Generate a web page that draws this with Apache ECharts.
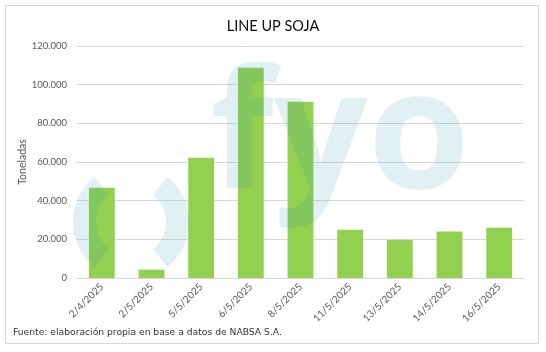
<!DOCTYPE html>
<html>
<head>
<meta charset="utf-8">
<script src="https://cdn.jsdelivr.net/npm/echarts@6/dist/echarts.min.js"></script>
<style>
  html, body { margin: 0; padding: 0; background: #fff; }
  #chart { width: 546px; height: 352px; }
</style>
</head>
<body>
<div id="chart"></div>
<script>
const chart = echarts.init(document.getElementById('chart'));

// fechas de arribo y toneladas
const categories = ['2/4/2025', '2/5/2025', '5/5/2025', '6/5/2025', '8/5/2025', '11/5/2025', '13/5/2025', '14/5/2025', '16/5/2025'];
const toneladas = [46700, 4300, 62200, 108800, 91200, 25000, 19800, 24000, 26000];
const yTicks = { min: 0, max: 120000, interval: 20000 };

const fmt = v => String(v).replace(/\B(?=(\d{3})+(?!\d))/g, '.');
const wm = 'rgba(45,146,183,0.14)';
const deg = d => d * Math.PI / 180;

const option = {
  backgroundColor: '#fff',
  animation: false,
  title: {
    text: 'LINE UP SOJA',
    left: 'center',
    top: 14,
    textStyle: { color: '#0d0d0d', fontSize: 14.5, fontWeight: 'normal', fontFamily: 'Lato' }
  },
  grid: { left: 77, right: 22, top: 46, bottom: 74 },
  xAxis: {
    type: 'category',
    data: categories,
    axisLine: { lineStyle: { color: '#d9d9d9' } },
    axisTick: { show: false },
    axisLabel: { color: '#595959', fontSize: 10, fontFamily: 'Lato', rotate: 45, margin: 7, interval: 0 }
  },
  yAxis: {
    type: 'value',
    min: yTicks.min,
    max: yTicks.max,
    interval: yTicks.interval,
    name: 'Toneladas',
    nameLocation: 'middle',
    nameGap: 49,
    nameMoveOverlap: false,
    nameTextStyle: { color: '#595959', fontSize: 10.5, fontFamily: 'Lato' },
    axisLine: { show: false },
    axisTick: { show: false },
    splitLine: { lineStyle: { color: '#d9d9d9' } },
    axisLabel: { color: '#595959', fontSize: 9.5, fontFamily: 'Lato', margin: 10, formatter: fmt }
  },
  series: [{
    type: 'bar',
    data: toneladas,
    barWidth: '52%',
    itemStyle: { color: '#92d050' }
  }],
  graphic: [
    { type: 'rect', silent: true, shape: { x: 5.5, y: 5.5, width: 533, height: 338 },
      style: { fill: 'none', stroke: '#d9d9d9', lineWidth: 1 } },
    { type: 'sector', silent: true, z: 100,
      shape: { cx: 131, cy: 222, r: 58, r0: 35, startAngle: deg(129), endAngle: deg(231) },
      style: { fill: wm } },
    { type: 'sector', silent: true, z: 100,
      shape: { cx: 131, cy: 222, r: 58, r0: 35, startAngle: deg(-51), endAngle: deg(51) },
      style: { fill: wm } },
    { type: 'text', silent: true, z: 100, left: 210, top: 58,
      style: { text: 'fyo', fill: wm, font: 'bold 165px "Open Sans"' } },
    { type: 'text', left: 13, top: 328,
      style: { text: 'Fuente: elaboración propia en base a datos de NABSA S.A.', fill: '#333', font: '9.2px "DejaVu Sans"' } }
  ]
};

chart.setOption(option);
</script>
</body>
</html>
